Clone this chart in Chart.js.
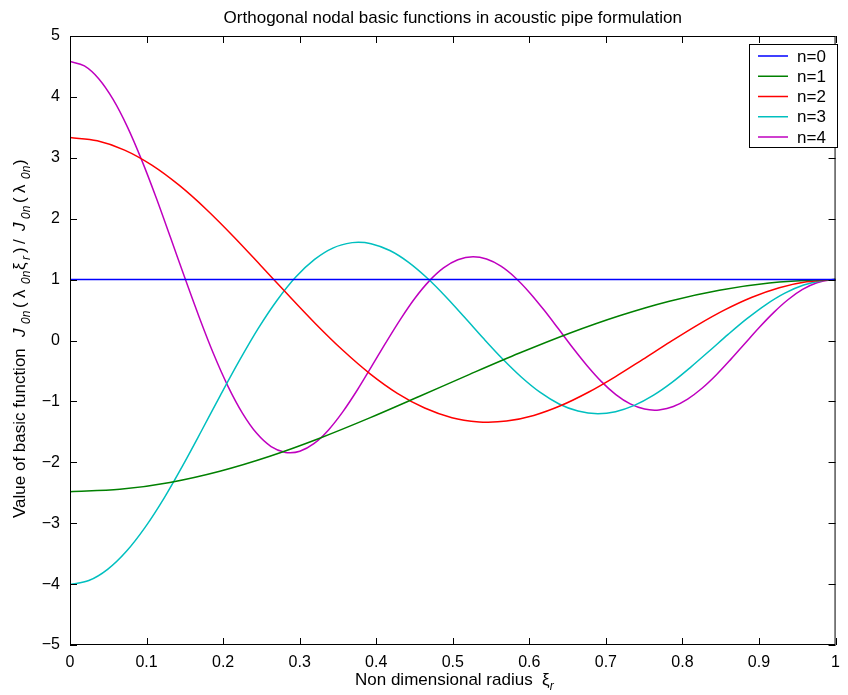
<!DOCTYPE html>
<html>
<head>
<meta charset="utf-8">
<script src="https://cdn.jsdelivr.net/npm/chart.js@4/dist/chart.umd.min.js"></script>
<style>
  html, body { margin: 0; padding: 0; background: #fff; }
  canvas { display: block; }
</style>
</head>
<body>
<canvas id="c" width="848" height="695"></canvas>
<script>
// ---- Data (xi, value) ----
const seriesLabels = ['n=0', 'n=1', 'n=2', 'n=3', 'n=4'];
const seriesColors = ['#0000FF', '#008000', '#FF0000', '#00BFBF', '#BF00BF'];

const x0 = [0, 1];
const y0 = [1, 1];

const x1 = [0, 0.0652, 0.1305, 0.1957, 0.2610, 0.3262, 0.3915, 0.4567, 0.5220, 0.5872, 0.6525, 0.7177, 0.7829, 0.8482, 0.9134, 0.9787, 1];
const y1 = [-2.483, -2.444, -2.330, -2.146, -1.900, -1.604, -1.271, -0.916, -0.556, -0.206, 0.120, 0.407, 0.646, 0.826, 0.944, 0.996, 1];

const x2 = [0, 0.0356, 0.0713, 0.1069, 0.1425, 0.1782, 0.2138, 0.2494, 0.2851, 0.3207, 0.3564, 0.3920, 0.4276, 0.4633, 0.4989, 0.5345, 0.5462, 0.5702, 0.6058, 0.6414, 0.6771, 0.7127, 0.7483, 0.7840, 0.8196, 0.8552, 0.8909, 0.9265, 0.9621, 1];
const y2 = [3.332, 3.280, 3.127, 2.880, 2.550, 2.152, 1.705, 1.229, 0.746, 0.276, -0.161, -0.547, -0.867, -1.109, -1.267, -1.337, -1.342, -1.323, -1.230, -1.068, -0.850, -0.592, -0.310, -0.023, 0.253, 0.502, 0.710, 0.867, 0.964, 1];

const x3 = [0, 0.0246, 0.0491, 0.0737, 0.0983, 0.1229, 0.1474, 0.1720, 0.1966, 0.2212, 0.2457, 0.2703, 0.2949, 0.3195, 0.3440, 0.3686, 0.3766, 0.3932, 0.4178, 0.4423, 0.4669, 0.4915, 0.5160, 0.5406, 0.5652, 0.5898, 0.6143, 0.6389, 0.6635, 0.6896, 0.7126, 0.7372, 0.7618, 0.7864, 0.8109, 0.8355, 0.8601, 0.8847, 0.9092, 0.9338, 0.9584, 0.9830, 1];
const y3 = [-4.005, -3.942, -3.758, -3.461, -3.064, -2.587, -2.050, -1.478, -0.897, -0.332, 0.194, 0.657, 1.042, 1.332, 1.522, 1.607, 1.613, 1.590, 1.478, 1.284, 1.022, 0.711, 0.373, 0.027, -0.304, -0.603, -0.853, -1.042, -1.159, -1.202, -1.169, -1.066, -0.902, -0.688, -0.437, -0.168, 0.104, 0.362, 0.590, 0.777, 0.910, 0.985, 1];

const x4 = [0, 0.0188, 0.0375, 0.0563, 0.0751, 0.0938, 0.1126, 0.1313, 0.1501, 0.1689, 0.1876, 0.2064, 0.2252, 0.2439, 0.2627, 0.2815, 0.2876, 0.3002, 0.3190, 0.3377, 0.3565, 0.3753, 0.3940, 0.4128, 0.4316, 0.4503, 0.4691, 0.4879, 0.5066, 0.5265, 0.5441, 0.5629, 0.5817, 0.6004, 0.6192, 0.6380, 0.6567, 0.6755, 0.6942, 0.7130, 0.7318, 0.7505, 0.7636, 0.7693, 0.7881, 0.8068, 0.8256, 0.8444, 0.8631, 0.8819, 0.9006, 0.9194, 0.9382, 0.9569, 0.9757, 0.9945, 1];
const y4 = [4.580, 4.508, 4.298, 3.958, 3.504, 2.958, 2.344, 1.690, 1.025, 0.379, -0.222, -0.752, -1.191, -1.524, -1.741, -1.838, -1.844, -1.819, -1.690, -1.468, -1.168, -0.813, -0.426, -0.031, 0.348, 0.690, 0.975, 1.191, 1.325, 1.374, 1.337, 1.220, 1.031, 0.786, 0.500, 0.192, -0.119, -0.414, -0.675, -0.888, -1.041, -1.126, -1.144, -1.140, -1.084, -0.962, -0.784, -0.562, -0.310, -0.044, 0.218, 0.462, 0.673, 0.838, 0.948, 0.997, 1];

const xTickLabels = ['0', '0.1', '0.2', '0.3', '0.4', '0.5', '0.6', '0.7', '0.8', '0.9', '1'];
const yTickLabels = ['\u22125', '\u22124', '\u22123', '\u22122', '\u22121', '0', '1', '2', '3', '4', '5'];

const titleText = 'Orthogonal nodal basic functions in acoustic pipe formulation';
const xLabelParts = [{t: 'Non dimensional radius  '}, {t: '\u03BE'}, {t: 'r', sub: true, it: true}];
const yLabelParts = [
  {t: 'Value of basic function'}, {t: 'J', it: true}, {t: '0n', sub: true, it: true},
  {t: '('}, {t: '\u03BB'}, {t: '0n', sub: true, it: true}, {t: '\u03BE'}, {t: 'r', sub: true, it: true},
  {t: ')'}, {t: '/'}, {t: 'J', it: true}, {t: '0n', sub: true, it: true},
  {t: '('}, {t: '\u03BB'}, {t: '0n', sub: true, it: true}, {t: ')'}
];
// glyph-group layout (distance along the rotated label, pixels) – styling only
const yLabelOffsets = [0, 181, 194, 210, 220, 234, 248, 258, 265, 274, 287, 299, 315, 325, 339, 353];

// ---- build datasets ----
const xs = [x0, x1, x2, x3, x4];
const ys = [y0, y1, y2, y3, y4];
const datasets = xs.map((xa, i) => ({
  label: seriesLabels[i],
  data: xa.map((x, j) => ({x: x, y: ys[i][j]})),
  borderColor: seriesColors[i],
  backgroundColor: seriesColors[i],
  borderWidth: 1.5,
  pointRadius: 0,
  fill: false,
  cubicInterpolationMode: 'monotone'
}));

const FONT = '"Liberation Sans", Arial, Helvetica, sans-serif';

function drawRich(ctx, parts, size, x, y, offsets) {
  const subSize = Math.round(size * 0.72);
  let cx = x;
  parts.forEach((p, i) => {
    ctx.font = (p.it ? 'italic ' : '') + (p.sub ? subSize : size) + 'px ' + FONT;
    const px = offsets ? x + offsets[i] : cx;
    ctx.fillText(p.t, px, y + (p.sub ? size * 0.3 : 0));
    cx = px + ctx.measureText(p.t).width;
  });
}

const decor = {
  id: 'decor',
  afterDraw(chart) {
    const ctx = chart.ctx;
    const a = chart.chartArea;
    const xs_ = chart.scales.x, ys_ = chart.scales.y;
    ctx.save();
    // frame
    ctx.strokeStyle = '#000';
    ctx.lineWidth = 1;
    ctx.strokeRect(a.left + 0.5, a.top + 0.5, a.right - a.left - 1, a.bottom - a.top - 1);
    // inward ticks
    const tl = 7;
    ctx.beginPath();
    xs_.ticks.forEach(t => {
      const px = Math.round(xs_.getPixelForValue(t.value)) + 0.5;
      ctx.moveTo(px, a.bottom); ctx.lineTo(px, a.bottom - tl);
      ctx.moveTo(px, a.top); ctx.lineTo(px, a.top + tl);
    });
    ys_.ticks.forEach(t => {
      const py = Math.round(ys_.getPixelForValue(t.value)) + 0.5;
      ctx.moveTo(a.left, py); ctx.lineTo(a.left + tl, py);
      ctx.moveTo(a.right, py); ctx.lineTo(a.right - tl, py);
    });
    ctx.stroke();

    // legend
    const lx = 749, ly = 44, lw = 88, lh = 103;
    ctx.fillStyle = '#fff';
    ctx.fillRect(lx, ly, lw, lh);
    ctx.strokeRect(lx + 0.5, ly + 0.5, lw, lh);
    chart.data.datasets.forEach((ds, i) => {
      const yy = ly + 12 + i * 20.25;
      ctx.strokeStyle = ds.borderColor;
      ctx.lineWidth = 1.5;
      ctx.beginPath();
      ctx.moveTo(lx + 9, yy); ctx.lineTo(lx + 39, yy);
      ctx.stroke();
      ctx.fillStyle = '#000';
      ctx.font = '17px ' + FONT;
      ctx.textBaseline = 'middle';
      ctx.textAlign = 'left';
      ctx.fillText(ds.label, lx + 48, yy + 1);
    });

    // title
    ctx.fillStyle = '#000';
    ctx.textBaseline = 'alphabetic';
    ctx.textAlign = 'left';
    ctx.font = '17px ' + FONT;
    const cxm = (a.left + a.right) / 2;
    const tw = ctx.measureText(titleText).width;
    ctx.fillText(titleText, cxm - tw / 2, 23);

    // x label
    drawRich(ctx, xLabelParts, 17, 355, 685, null);

    // y label (rotated)
    ctx.save();
    ctx.translate(25, 518);
    ctx.rotate(-Math.PI / 2);
    drawRich(ctx, yLabelParts, 17, 0, 0, yLabelOffsets);
    ctx.restore();

    ctx.restore();
  }
};

new Chart(document.getElementById('c'), {
  type: 'line',
  data: { datasets: datasets },
  options: {
    responsive: false,
    animation: false,
    layout: { padding: { top: 36, right: 3, bottom: 20, left: 0 } },
    plugins: { legend: { display: false }, tooltip: { enabled: false }, title: { display: false } },
    scales: {
      x: {
        type: 'linear', min: 0, max: 1,
        grid: { display: false, drawTicks: false },
        border: { display: false },
        ticks: {
          stepSize: 0.1, autoSkip: false, maxRotation: 0, padding: 8,
          color: '#000', font: { size: 16, family: FONT },
          callback: (v, i) => xTickLabels[i]
        },
        afterFit: s => { s.height = 30; }
      },
      y: {
        type: 'linear', min: -5, max: 5,
        grid: { display: false, drawTicks: false },
        border: { display: false },
        ticks: {
          stepSize: 1, autoSkip: false, padding: 10,
          color: '#000', font: { size: 16, family: FONT },
          callback: (v, i) => yTickLabels[i]
        },
        afterFit: s => { s.width = 70; }
      }
    }
  },
  plugins: [decor]
});
</script>
</body>
</html>
